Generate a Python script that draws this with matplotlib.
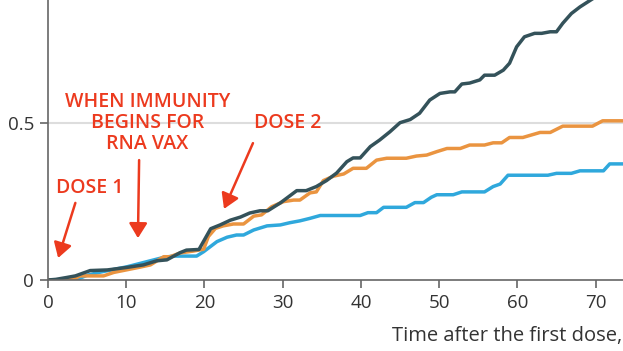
#!/usr/bin/env python3
"""Cumulative incidence after first dose, with hand-drawn style notes."""
import matplotlib
matplotlib.use('Agg')
import matplotlib.pyplot as plt
from matplotlib.ticker import FuncFormatter

# series (day, cumulative value)
dark_days = [0, 1, 2.4, 3.5, 5.4, 7.6, 10.1, 12.2, 13.9, 15.2, 16.9, 17.7, 19.3,
             20.8, 22, 23.3, 24.6, 25.8, 27.1, 28.1, 29.7, 31.8, 33, 34.3, 35.6,
             36.9, 38.2, 39, 39.9, 41.2, 42.4, 43.7, 45, 46.3, 47.5, 48.8, 50.1,
             51.4, 52, 52.9, 53.9, 55.2, 55.8, 57.1, 58.2, 59, 59.9, 60.9, 62.2,
             63.1, 64.2, 65, 65.8, 66.9, 68, 69, 70, 71, 72, 74]
dark_vals = [0, 0.002, 0.008, 0.013, 0.03, 0.032, 0.04, 0.048, 0.061, 0.064,
             0.087, 0.095, 0.097, 0.163, 0.175, 0.19, 0.2, 0.213, 0.22, 0.22,
             0.245, 0.284, 0.284, 0.297, 0.316, 0.34, 0.376, 0.388, 0.388, 0.424,
             0.445, 0.471, 0.5, 0.51, 0.53, 0.572, 0.593, 0.598, 0.598, 0.623,
             0.626, 0.636, 0.651, 0.651, 0.667, 0.689, 0.741, 0.773, 0.784, 0.784,
             0.789, 0.789, 0.816, 0.847, 0.868, 0.884, 0.90, 0.92, 0.93, 0.95]

orange_days = [0, 1.5, 3.3, 4.1, 7.1, 8.4, 11.8, 13.1, 14.8, 15.6, 16.9, 18.6,
               19.9, 20.5, 21.4, 22.4, 23.7, 25, 26.3, 27.3, 28.6, 30.1, 31.4,
               32.2, 33.5, 34.3, 35.2, 36.5, 37.8, 39, 40.7, 42, 43.3, 45.8, 47.1,
               48.4, 49.7, 51, 52.7, 53.9, 55.8, 56.9, 58, 59, 60.7, 61.8, 62.9,
               64.2, 65.8, 69.6, 70.9, 74]
orange_vals = [0, 0, 0.003, 0.013, 0.013, 0.024, 0.041, 0.048, 0.074, 0.074,
               0.086, 0.092, 0.098, 0.138, 0.164, 0.172, 0.178, 0.178, 0.203,
               0.207, 0.233, 0.249, 0.254, 0.254, 0.277, 0.28, 0.316, 0.33, 0.337,
               0.355, 0.355, 0.381, 0.387, 0.387, 0.394, 0.397, 0.408, 0.418,
               0.418, 0.429, 0.429, 0.436, 0.436, 0.453, 0.453, 0.461, 0.469,
               0.469, 0.489, 0.489, 0.506, 0.506]

blue_days = [0, 3.7, 5, 6.7, 10.1, 12.6, 14.8, 16, 19, 19.9, 21.6, 22.9, 24.1,
             25, 26.3, 28, 29.7, 30.9, 32.2, 33.5, 34.8, 39.9, 40.9, 42, 42.9,
             45.8, 46.9, 48, 49, 49.7, 51.8, 52.9, 55.8, 56.9, 57.8, 58.8, 63.9,
             65, 66.9, 68, 71, 71.8, 74]
blue_vals = [0, 0.002, 0.015, 0.025, 0.042, 0.058, 0.072, 0.076, 0.076, 0.09,
             0.122, 0.136, 0.143, 0.143, 0.159, 0.172, 0.175, 0.182, 0.188, 0.196,
             0.205, 0.205, 0.214, 0.214, 0.231, 0.231, 0.246, 0.246, 0.263,
             0.271, 0.271, 0.28, 0.28, 0.297, 0.305, 0.333, 0.333, 0.339, 0.339,
             0.347, 0.347, 0.369, 0.369]

x_ticks = [0, 10, 20, 30, 40, 50, 60, 70]
y_ticks = [0, 0.5]
x_label = 'Time after the first dose,'

RED = '#ec3a1e'
TXT = '#333333'

plt.rcParams['font.family'] = ['Open Sans', 'DejaVu Sans']

fig = plt.figure(figsize=(6.23, 3.51), dpi=100)
ax = fig.add_axes([0.077, 0.2023, 0.923, 0.7977])

ax.axhline(0.5, color='#dddddd', lw=1.5, zorder=0)
ax.plot(blue_days, blue_vals, color='#2fa8dc', lw=2.5, solid_joinstyle='round')
ax.plot(orange_days, orange_vals, color='#ea9440', lw=2.5, solid_joinstyle='round')
ax.plot(dark_days, dark_vals, color='#34525a', lw=2.5, solid_joinstyle='round')

ax.set_xlim(0, 73.5)
ax.set_ylim(0, 0.89)
ax.set_xticks(x_ticks)
ax.set_yticks(y_ticks)
ax.yaxis.set_major_formatter(FuncFormatter(lambda v, p: f'{v:g}'))
for s in ['top', 'right']:
    ax.spines[s].set_visible(False)
for s in ['left', 'bottom']:
    ax.spines[s].set_color('#666666')
    ax.spines[s].set_linewidth(1.2)
ax.tick_params(direction='out', length=6, width=1.2, color='#666666',
               labelcolor=TXT, labelsize=13.5, pad=4)

fig.text(392 / 623, 0.029, x_label, fontsize=14.5, color=TXT,
         ha='left', va='baseline')

# hand-drawn style notes
note = dict(color=RED, fontsize=14, fontweight='semibold', ha='center',
            va='center', linespacing=1.05)
arrow = dict(arrowstyle='-|>,head_length=0.9,head_width=0.55', color=RED,
             lw=1.8, shrinkA=0, shrinkB=0)
ax.text(5.4, 0.292, 'DOSE 1', **note)
ax.annotate('', xy=(1.3, 0.07), xytext=(3.5, 0.245), arrowprops=arrow)
ax.text(12.7, 0.499, 'WHEN IMMUNITY\nBEGINS FOR\nRNA VAX', **note)
ax.annotate('', xy=(11.5, 0.133), xytext=(11.65, 0.381), arrowprops=arrow)
ax.text(30.7, 0.499, 'DOSE 2', **note)
ax.annotate('', xy=(22.5, 0.226), xytext=(26.2, 0.435), arrowprops=arrow)

fig.savefig('out.png', dpi=100)
print('Wrote out.png')
